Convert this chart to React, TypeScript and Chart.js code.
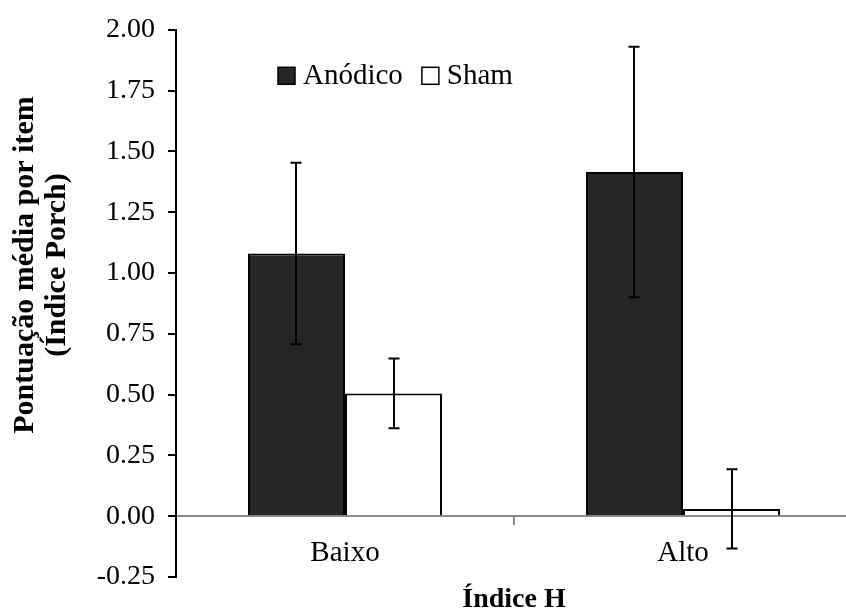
import React, { useEffect, useRef } from "react";
import { Chart, registerables } from "chart.js";

Chart.register(...registerables);

// ---- data ----
const categories = ["Baixo", "Alto"];
const seriesNames = ["Anódico", "Sham"];
const anodicoValues = [1.08, 1.415];
const anodicoErrors = [0.373, 0.515];
const shamValues = [0.505, 0.03];
const shamErrors = [0.143, 0.163];
const yMin = -0.25;
const yMax = 2.0;
const yStep = 0.25;
const xTitle = "Índice H";
const yTitleLines = ["Pontuação média por item", "(Índice Porch)"];

const errorsBySeries = [anodicoErrors, shamErrors];
const FONT = "'Liberation Serif', 'Times New Roman', serif";

const errorBarPlugin = {
  id: "errorBars",
  afterDatasetsDraw(chart: any) {
    const ctx = chart.ctx;
    const yScale = chart.scales.y;
    ctx.save();
    ctx.strokeStyle = "#000";
    ctx.lineWidth = 2;
    chart.data.datasets.forEach((ds: any, di: number) => {
      const meta = chart.getDatasetMeta(di);
      meta.data.forEach((bar: any, i: number) => {
        const v = ds.data[i];
        const e = errorsBySeries[di][i];
        const x = Math.round(bar.x);
        const yTop = yScale.getPixelForValue(v + e);
        const yBot = yScale.getPixelForValue(v - e);
        const cap = 5.5;
        ctx.beginPath();
        ctx.moveTo(x, yTop);
        ctx.lineTo(x, yBot);
        ctx.moveTo(x - cap, yTop);
        ctx.lineTo(x + cap, yTop);
        ctx.moveTo(x - cap, yBot);
        ctx.lineTo(x + cap, yBot);
        ctx.stroke();
      });
    });
    ctx.restore();
  },
};

const legendPlugin = {
  id: "customLegend",
  afterDraw(chart: any) {
    const ctx = chart.ctx;
    const area = chart.chartArea;
    ctx.save();
    ctx.font = `29px ${FONT}`;
    ctx.textBaseline = "middle";
    ctx.textAlign = "left";
    let x = area.left + 102;
    const yc = area.top + 46;
    const box = 17;
    chart.data.datasets.forEach((ds: any) => {
      ctx.fillStyle = ds.backgroundColor;
      ctx.fillRect(x, yc - box / 2, box, box);
      ctx.strokeStyle = "#000";
      ctx.lineWidth = 1.5;
      ctx.strokeRect(x, yc - box / 2, box, box);
      ctx.fillStyle = "#000";
      const tx = x + box + 8;
      ctx.fillText(ds.label, tx, yc + 1);
      x = tx + ctx.measureText(ds.label).width + 19;
    });
    ctx.restore();
  },
};

const yTitlePlugin = {
  id: "yTitle",
  afterDraw(chart: any) {
    const ctx = chart.ctx;
    ctx.save();
    ctx.font = `bold 30px ${FONT}`;
    ctx.fillStyle = "#000";
    ctx.textAlign = "center";
    ctx.textBaseline = "middle";
    ctx.translate(41, 265);
    ctx.rotate(-Math.PI / 2);
    const lh = 32;
    yTitleLines.forEach((line, i) => {
      ctx.fillText(line, 0, (i - (yTitleLines.length - 1) / 2) * lh);
    });
    ctx.restore();
  },
};

export default function App() {
  const ref = useRef<HTMLCanvasElement | null>(null);

  useEffect(() => {
    if (!ref.current) return;
    const chart = new Chart(ref.current, {
      type: "bar",
      data: {
        labels: categories,
        datasets: [
          {
            label: seriesNames[0],
            data: anodicoValues,
            backgroundColor: "#262626",
            borderColor: "#000",
            borderWidth: 2,
            categoryPercentage: 0.574,
            barPercentage: 1,
          },
          {
            label: seriesNames[1],
            data: shamValues,
            backgroundColor: "#ffffff",
            borderColor: "#000",
            borderWidth: 2,
            categoryPercentage: 0.574,
            barPercentage: 1,
          },
        ],
      },
      options: {
        responsive: false,
        animation: false,
        devicePixelRatio: 1,
        layout: { padding: { left: 0, top: 25, right: 8, bottom: 33 } },
        plugins: {
          legend: { display: false },
          tooltip: { enabled: false },
        },
        scales: {
          x: {
            position: { y: 0 } as any,
            offset: true,
            grid: {
              display: true,
              drawOnChartArea: false,
              offset: true,
              tickLength: 8,
              color: "#8a8a8a",
              lineWidth: 2,
            },
            border: { display: true, color: "#8a8a8a", width: 2 },
            ticks: {
              color: "#000",
              font: { family: FONT, size: 29 },
              padding: 12,
            },
            title: {
              display: true,
              text: xTitle,
              color: "#000",
              font: { family: FONT, size: 28, weight: "bold" },
              padding: { top: 0, bottom: 0 },
            },
          },
          y: {
            min: yMin,
            max: yMax,
            afterFit: (s: any) => {
              s.width = 176;
            },
            ticks: {
              stepSize: yStep,
              color: "#000",
              font: { family: FONT, size: 28 },
              padding: 13,
              callback: (v: any) => Number(v).toFixed(2),
            },
            grid: {
              display: true,
              drawOnChartArea: false,
              tickLength: 8,
              color: "#000",
              lineWidth: 2,
            },
            border: { display: true, color: "#000", width: 2 },
          },
        },
      },
      plugins: [errorBarPlugin, legendPlugin, yTitlePlugin],
    });
    return () => chart.destroy();
  }, []);

  return (
    <div style={{ position: "fixed", left: 0, top: 0, width: 860, height: 610, background: "#fff" }}>
      <canvas ref={ref} width={860} height={610} />
    </div>
  );
}
